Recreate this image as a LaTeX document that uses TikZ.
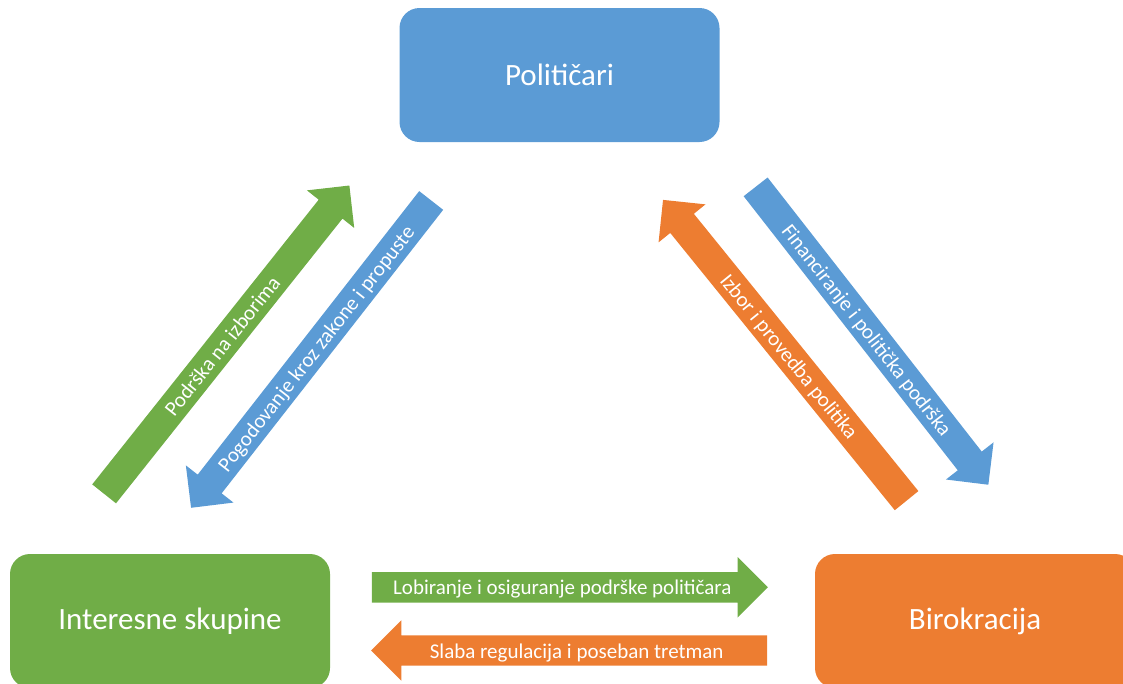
\documentclass[tikz,border=0pt]{standalone}
\usepackage{fontspec}
\setmainfont{Carlito}
\usepackage{tikz}
\usetikzlibrary{shapes,arrows,positioning}
\definecolor{polblue}{HTML}{5B9BD5}
\definecolor{intgreen}{HTML}{70AD47}
\definecolor{birorange}{HTML}{ED7D31}

\begin{document}
\begin{tikzpicture}[x=1pt, y=-1pt,
  box_style/.style={rectangle, rounded corners=20pt, minimum width=320pt, minimum height=134pt,
    text=white, font=\fontsize{31pt}{37pt}\selectfont},
  arrow_style/.style={single arrow, single arrow head extend=15pt, single arrow tip angle=90,
    inner ysep=0pt, inner xsep=4pt, text height=22.5pt, text depth=7.5pt, anchor=tail,
    minimum height=392pt, text=white, font=\fontsize{21pt}{25pt}\selectfont},
  back_style/.style={shape border rotate=180}]

  \useasboundingbox (0,0) rectangle (1123,683);
  \clip (0,0) rectangle (1123,683);

  \node (pol) [box_style, fill=polblue] at (559.5,75) {Političari};
  \node (int) [box_style, fill=intgreen] at (170,621) {Interesne skupine};
  \node (bir) [box_style, fill=birorange] at (975,621) {Birokracija};
  %
  \node (podrska) [arrow_style, fill=intgreen, rotate=51.5, minimum height=394pt] at (104,494) {Podrška na izborima};
  \node (pogod) [arrow_style, back_style, fill=polblue, rotate=52, minimum height=390pt] at (431.3,200.3) {Pogodovanje kroz zakone i propuste};
  \node (financ) [arrow_style, fill=polblue, rotate=-52, minimum height=378pt] at (755.5,186.7) {Financiranje i politička podrška};
  \node (izbor) [arrow_style, back_style, fill=birorange, rotate=-51, minimum height=387pt] at (906.7,500.8) {Izbor i provedba politika};
  \node (lobi) [arrow_style, fill=intgreen, minimum height=396pt] at (371.7,587.3) {Lobiranje i osiguranje podrške političara};
  \node (slaba) [arrow_style, back_style, fill=birorange, minimum height=396pt] at (767.3,650.5) {Slaba regulacija i poseban tretman};
\end{tikzpicture}
\end{document}
